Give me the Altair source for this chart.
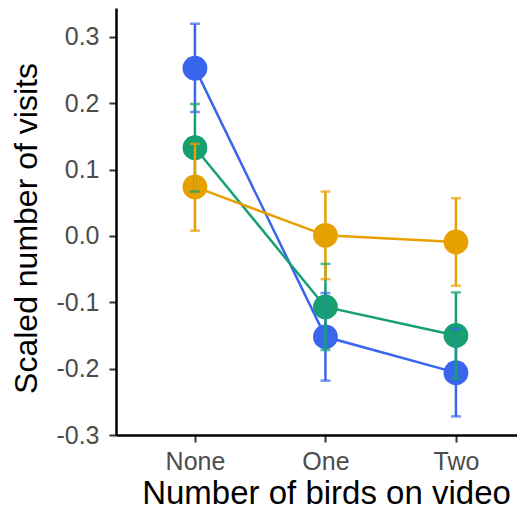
import altair as alt
import pandas as pd

birds = ["None", "One", "Two"]
groups = ["Group A", "Group B", "Group C"]
colors = ["#3A66EE", "#16A072", "#E6A000"]

mean_a = [0.253, -0.152, -0.206]
low_a = [0.187, -0.218, -0.272]
high_a = [0.320, -0.086, -0.140]

mean_b = [0.133, -0.107, -0.150]
low_b = [0.067, -0.172, -0.215]
high_b = [0.199, -0.042, -0.085]

mean_c = [0.074, 0.001, -0.009]
low_c = [0.008, -0.065, -0.075]
high_c = [0.139, 0.067, 0.057]

y_ticks = [-0.3, -0.2, -0.1, 0.0, 0.1, 0.2, 0.3]

rows = []
for g, means, lows, highs in zip(groups, [mean_a, mean_b, mean_c], [low_a, low_b, low_c], [high_a, high_b, high_c]):
    for b, m, lo, hi in zip(birds, means, lows, highs):
        rows.append({"group": g, "birds": b, "mean": m, "low": lo, "high": hi})
df = pd.DataFrame(rows)

label_list = "[" + ",".join("'" + b + "'" for b in birds) + "]"

x_enc = alt.X(
    "idx:Q",
    scale=alt.Scale(domain=[0.395, 3.468], nice=False, zero=False),
    axis=alt.Axis(
        values=[1, 2, 3],
        labelExpr=label_list + "[datum.value - 1]",
        title="Number of birds on video",
        titleX=210,
        titleFontSize=33,
        labelPadding=7,
        titlePadding=3,
    ),
)
y_scale = alt.Scale(domain=[-0.3, 0.3437], nice=False, zero=False)
y_enc = alt.Y(
    "mean:Q",
    scale=y_scale,
    axis=alt.Axis(
        values=y_ticks,
        labelExpr="(datum.value < -0.00001 ? '-' : '') + format(abs(datum.value), '.1f')",
        title="Scaled number of visits",
        titleY=220,
        labelPadding=10,
        titlePadding=12,
    ),
)
color_enc = alt.Color("group:N", scale=alt.Scale(domain=groups, range=colors), legend=None)

base = alt.Chart(df).transform_calculate(
    idx="indexof(" + label_list + ", datum.birds) + 1"
)

lines = base.mark_line(strokeWidth=2.5).encode(x=x_enc, y=y_enc, color=color_enc, detail="group:N")
points = base.mark_circle(size=615, opacity=1).encode(x=x_enc, y=y_enc, color=color_enc)
bars = base.mark_rule(strokeWidth=2.5).encode(
    x=x_enc, y=alt.Y("low:Q", scale=y_scale), y2="high:Q", color=color_enc
)
caps_lo = base.mark_tick(size=10, thickness=2.5, orient="horizontal").encode(
    x=x_enc, y=alt.Y("low:Q", scale=y_scale), color=color_enc
)
caps_hi = base.mark_tick(size=10, thickness=2.5, orient="horizontal").encode(
    x=x_enc, y=alt.Y("high:Q", scale=y_scale), color=color_enc
)

chart = (
    alt.layer(lines, points, bars, caps_lo, caps_hi)
    .properties(
        width=401,
        height=427,
        autosize=alt.AutoSizeParams(type="none"),
        padding={"left": 108, "top": 0, "right": 0, "bottom": 76},
    )
    .configure_view(stroke=None)
    .configure_axis(
        grid=False,
        labelFont="Liberation Sans",
        titleFont="Liberation Sans",
        labelFontSize=25,
        labelColor="#4D4D4D",
        titleFontSize=32,
        titleColor="black",
        titleFontWeight="normal",
        domainColor="black",
        domainWidth=2.5,
        tickColor="#333333",
        tickWidth=2,
        tickSize=7,
    )
)

chart.save("out.html", embed_options={"renderer": "svg", "actions": False})
